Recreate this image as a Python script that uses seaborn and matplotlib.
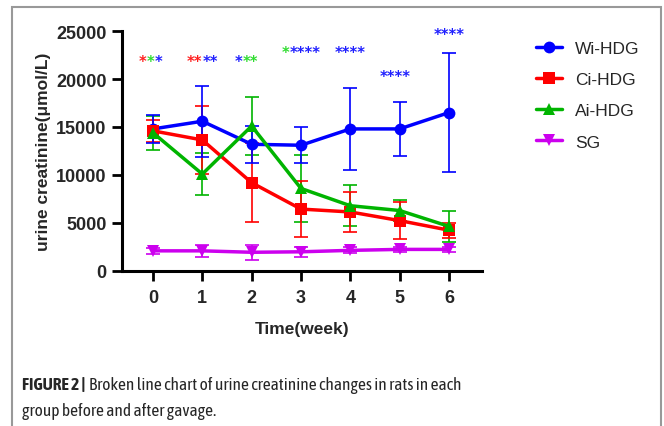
import matplotlib
matplotlib.use("Agg")
import matplotlib.pyplot as plt
import matplotlib.transforms as mtransforms
from matplotlib import font_manager
from matplotlib.patches import Rectangle
import seaborn as sns
import pandas as pd

weeks = [0, 1, 2, 3, 4, 5, 6]
groups = ["Wi-HDG", "Ci-HDG", "Ai-HDG", "SG"]
wi_mean = [14800, 15600, 13200, 13100, 14800, 14800, 16500]
wi_err = [1500, 3700, 1900, 1900, 4250, 2850, 6200]
ci_mean = [14600, 13650, 9200, 6450, 6150, 5250, 4250]
ci_err = [1150, 3500, 4100, 2900, 2100, 1900, 800]
ai_mean = [14400, 10100, 15100, 8600, 6800, 6300, 4650]
ai_err = [1750, 2150, 3000, 3500, 2150, 1100, 1600]
sg_mean = [2100, 2100, 1950, 2000, 2150, 2250, 2250]
sg_err = [300, 600, 800, 550, 300, 300, 300]

star_x = [-0.05, 1, 1.9, 3, 4, 4.9, 6]
star_y = [22200, 22200, 22200, 23150, 23150, 20650, 25030]
star_groups = [["r", "g", "b"], ["r", "r", "b", "b"], ["b", "g", "g"],
               ["g", "b", "b", "b", "b"], ["b", "b", "b", "b"],
               ["b", "b", "b", "b"], ["b", "b", "b", "b"]]

yticks = [0, 5000, 10000, 15000, 20000, 25000]

colors = {"Wi-HDG": "#0000FF", "Ci-HDG": "#FF0000", "Ai-HDG": "#00B400", "SG": "#CC00EE"}
markers = {"Wi-HDG": "o", "Ci-HDG": "s", "Ai-HDG": "^", "SG": "v"}
star_col = {"r": "#FF2020", "g": "#30DD30", "b": "#2020FF"}

means = {"Wi-HDG": wi_mean, "Ci-HDG": ci_mean, "Ai-HDG": ai_mean, "SG": sg_mean}
errs = {"Wi-HDG": wi_err, "Ci-HDG": ci_err, "Ai-HDG": ai_err, "SG": sg_err}

rows = []
for g in groups:
    for w, m, e in zip(weeks, means[g], errs[g]):
        rows.append({"week": w, "value": m, "err": e, "group": g})
df = pd.DataFrame(rows)

sns.set_theme(style="white")
plt.rcParams["font.family"] = ["Liberation Sans", "DejaVu Sans"]

fig = plt.figure(figsize=(6.64, 4.27), dpi=100)
ax = fig.add_axes([122 / 664, 1 - 272 / 427, (482 - 122) / 664, (272 - 32) / 427])

draw_order = ["SG", "Ai-HDG", "Ci-HDG", "Wi-HDG"]
for i, g in enumerate(draw_order):
    sub = df[df.group == g]
    ax.errorbar(sub.week, sub.value, yerr=sub.err, fmt="none", ecolor=colors[g],
                elinewidth=1.2, capsize=5, capthick=1.2, zorder=2 + i)

sns.lineplot(data=df, x="week", y="value", hue="group", style="group",
             hue_order=groups, style_order=groups, palette=colors,
             markers=markers, dashes=False, linewidth=2.5, markersize=8.5,
             markeredgewidth=0, ax=ax, legend=True, zorder=10)

ax.set_xlim(-0.628, 6.67)
ax.set_ylim(0, 25000)
ax.set_xticks(weeks)
ax.set_yticks(yticks)
ax.set_xticklabels([str(w) for w in weeks], fontsize=13, fontweight="bold")
ax.set_yticklabels([str(t) for t in yticks], fontsize=13, fontweight="bold")
ax.tick_params(axis="both", direction="out", length=7, width=2, color="black",
               bottom=True, left=True, pad=4)
ax.tick_params(axis="x", pad=6)
for s in ["top", "right"]:
    ax.spines[s].set_visible(False)
for s in ["left", "bottom"]:
    ax.spines[s].set_linewidth(2.2)
    ax.spines[s].set_color("black")
ax.set_xlabel("Time(week)", fontsize=12.5, fontweight="bold", labelpad=11)
ax.set_ylabel("urine creatinine(μmol/L)", fontsize=12.5, fontweight="bold", labelpad=4)
ax.grid(False)

leg = ax.legend(loc="upper left", bbox_to_anchor=(536 / 664, 1 - 42 / 427),
                bbox_transform=fig.transFigure, frameon=False, fontsize=12.5,
                handlelength=1.5, handletextpad=0.75, labelspacing=0.92,
                borderpad=0, borderaxespad=0)

# significance stars: same-colour runs placed side by side
fig.canvas.draw()
renderer = fig.canvas.get_renderer()
star_fs = 10.5
probe = ax.text(0, 0, "*", fontsize=star_fs, fontweight="bold", family="DejaVu Sans")
w_star = probe.get_window_extent(renderer).width
probe.remove()
for x, y, cols in zip(star_x, star_y, star_groups):
    n = len(cols)
    left = -n * w_star / 2
    runs = []
    for c in cols:
        if runs and runs[-1][0] == c:
            runs[-1][1] += 1
        else:
            runs.append([c, 1])
    pos = left
    for c, k in runs:
        tr = mtransforms.offset_copy(ax.transData, fig=fig, x=pos, y=-8, units="dots")
        ax.text(x, y, "*" * k, color=star_col[c], fontsize=star_fs, fontweight="bold",
                ha="left", va="baseline", transform=tr, clip_on=False,
                family="DejaVu Sans")
        pos += k * w_star

# frame
fig.patches.append(Rectangle((12 / 664, -0.05), (661 - 12) / 664, 1.05 - 8 / 427,
                             transform=fig.transFigure, fill=False,
                             edgecolor="#999999", linewidth=1.5))

# caption font: prefer a narrow family that has both regular and bold faces
cands = {}
for f in font_manager.fontManager.ttflist:
    if "Narrow" in f.name or "Condensed" in f.name:
        w = f.weight if isinstance(f.weight, int) else (700 if "bold" in str(f.weight) else 400)
        cands.setdefault(f.name, set()).add(w >= 600)
narrow = None
for name, ws in sorted(cands.items()):
    if True in ws and False in ws:
        narrow = name
        break
if narrow is None and cands:
    narrow = sorted(cands)[0]
fam = [narrow, "Liberation Sans"] if narrow else ["Liberation Sans"]

cap_fs = 12.5
line1 = "Broken line chart of urine creatinine changes in rats in each"
t1 = fig.text(22 / 664, 1 - 390 / 427, "FIGURE 2 |", fontsize=cap_fs, fontweight="bold",
              family=fam, va="baseline", ha="left")
fig.canvas.draw()
bb = t1.get_window_extent()
t2 = fig.text((bb.x1 + 4) / 664, 1 - 390 / 427, line1,
              fontsize=cap_fs, family=fam, va="baseline", ha="left")
fig.canvas.draw()
right = t2.get_window_extent().x1
scale = (463 - 22) / (right - 22)
if scale < 0.97 or scale > 1.03:
    cap_fs = cap_fs * min(max(scale, 0.85), 1.12)
    t1.set_fontsize(cap_fs)
    fig.canvas.draw()
    bb = t1.get_window_extent()
    t2.set_fontsize(cap_fs)
    t2.set_x((bb.x1 + 4) / 664)
fig.text(22 / 664, 1 - 416 / 427, "group before and after gavage.",
         fontsize=cap_fs, family=fam, va="baseline", ha="left")

fig.savefig("out.png", dpi=100)
